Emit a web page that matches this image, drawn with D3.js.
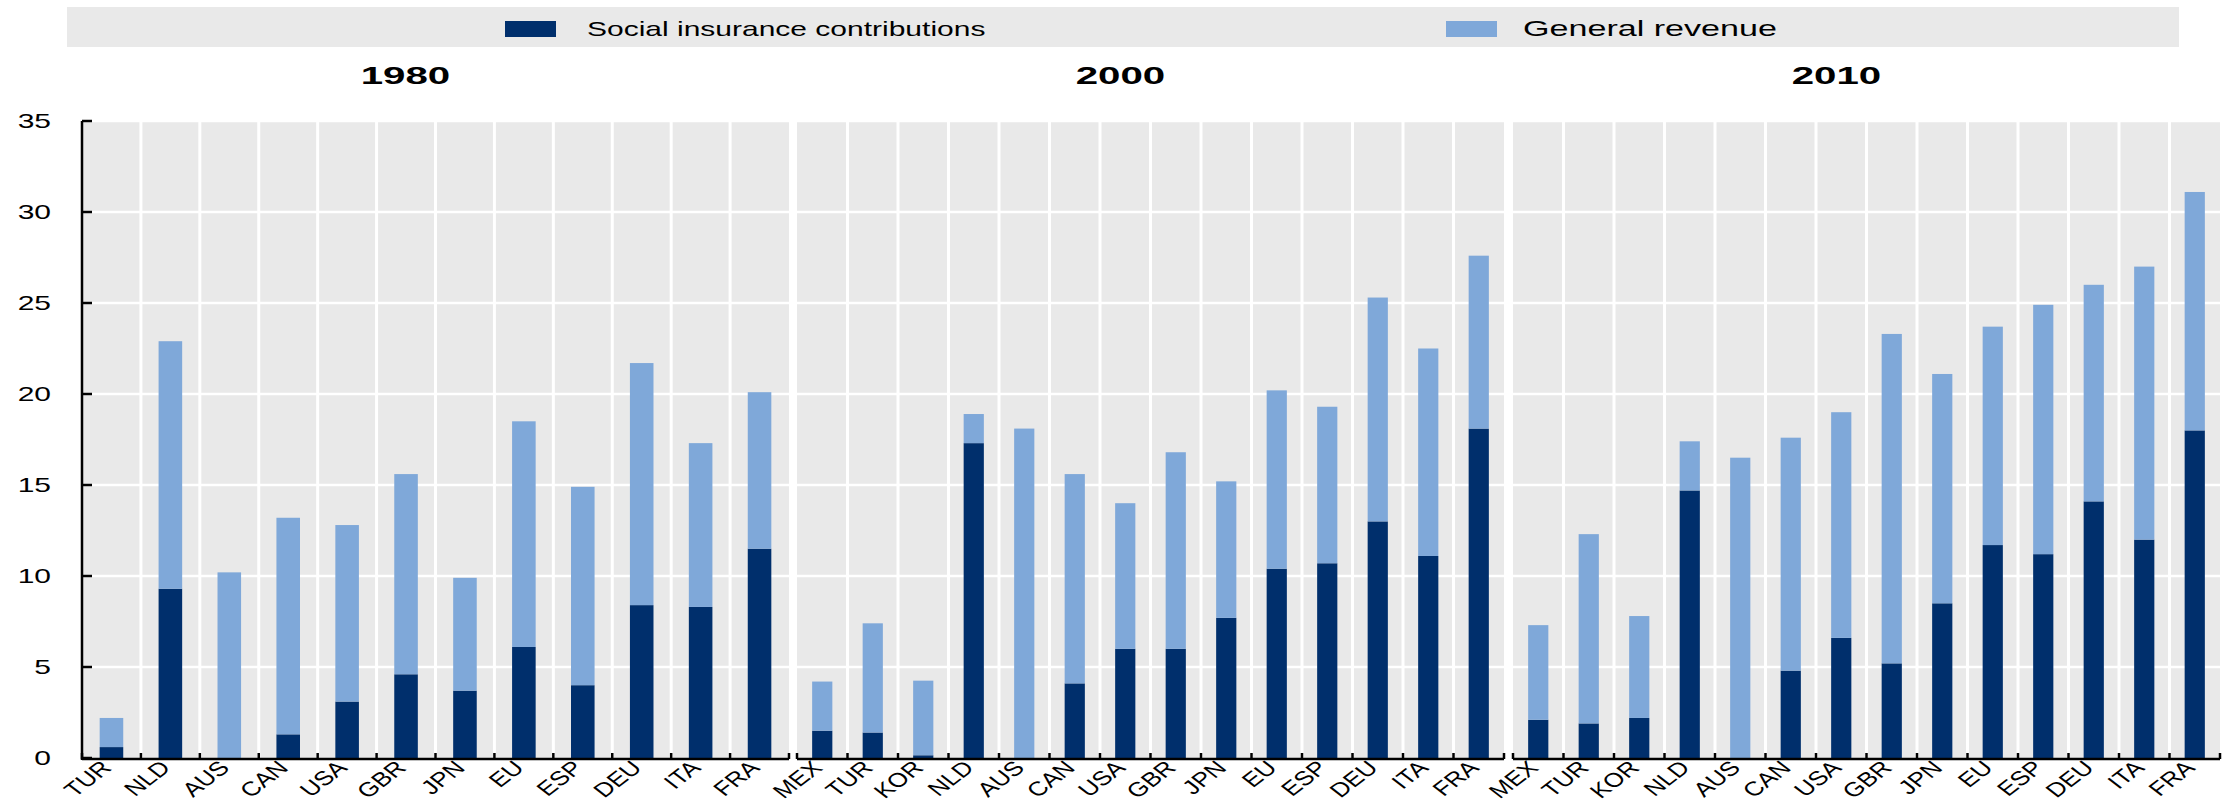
<!DOCTYPE html>
<html><head><meta charset="utf-8">
<script src="https://cdn.jsdelivr.net/npm/d3@7"></script>
<style>body{margin:0;background:#fff;} svg{display:block;} text{font-family:Arial,"Liberation Sans",sans-serif;fill:#000;}</style>
</head><body><svg id="c" width="2229" height="802"></svg>
<script>
// ---- data ----
const years = ["1980", "2000", "2010"];
const cats1980 = ["TUR","NLD","AUS","CAN","USA","GBR","JPN","EU","ESP","DEU","ITA","FRA"];
const social1980 = [0.6, 9.3, 0, 1.3, 3.1, 4.6, 3.7, 6.1, 4.0, 8.4, 8.3, 11.5];
const general1980 = [1.6, 13.6, 10.2, 11.9, 9.7, 11.0, 6.2, 12.4, 10.9, 13.3, 9.0, 8.6];
const cats2000 = ["MEX","TUR","KOR","NLD","AUS","CAN","USA","GBR","JPN","EU","ESP","DEU","ITA","FRA"];
const social2000 = [1.5, 1.4, 0.15, 17.3, 0, 4.1, 6.0, 6.0, 7.7, 10.4, 10.7, 13.0, 11.1, 18.1];
const general2000 = [2.7, 6.0, 4.1, 1.6, 18.1, 11.5, 8.0, 10.8, 7.5, 9.8, 8.6, 12.3, 11.4, 9.5];
const cats2010 = ["MEX","TUR","KOR","NLD","AUS","CAN","USA","GBR","JPN","EU","ESP","DEU","ITA","FRA"];
const social2010 = [2.1, 1.9, 2.2, 14.7, 0, 4.8, 6.6, 5.2, 8.5, 11.7, 11.2, 14.1, 12.0, 18.0];
const general2010 = [5.2, 10.4, 5.6, 2.7, 16.5, 12.8, 12.4, 18.1, 12.6, 12.0, 13.7, 11.9, 15.0, 13.1];
const yTicks = [0, 5, 10, 15, 20, 25, 30, 35];
const seriesNames = ["Social insurance contributions", "General revenue"];
const seriesKeys = ["social", "general"];
const colors = ["#002F6C", "#7FA8D9"];

// ---- layout ----
const SX = 1.5;               // horizontal stretch of the original picture's text
const panelX = [82, 797, 1513];
const panelW = 707;
const svg = d3.select("#c");
const y = d3.scaleLinear().domain([0, 35]).range([758, 121]);

const panels = [
  {year: years[0], cats: cats1980, social: social1980, general: general1980},
  {year: years[1], cats: cats2000, social: social2000, general: general2000},
  {year: years[2], cats: cats2010, social: social2010, general: general2010}
];

// legend
const lg = svg.append("g");
lg.append("rect").attr("x", 67).attr("y", 7).attr("width", 2112).attr("height", 40).attr("fill", "#E9E9E9");
const legendPos = [{sw: 505, tx: 587, fs: 20, sx: 1.5}, {sw: 1446, tx: 1523, fs: 22, sx: 1.55}];
seriesNames.forEach((n, i) => {
  lg.append("rect").attr("x", legendPos[i].sw).attr("y", 21).attr("width", 51).attr("height", 16).attr("fill", colors[i]);
  lg.append("text").attr("transform", `translate(${legendPos[i].tx},36) scale(${legendPos[i].sx},1)`)
    .attr("font-size", legendPos[i].fs).text(n);
});

const stack = d3.stack().keys(seriesKeys);

panels.forEach((p, pi) => {
  const x0 = panelX[pi];
  const x = d3.scaleBand().domain(p.cats).range([x0, x0 + panelW]).padding(0);
  const bw = x.bandwidth() * 0.4;
  const g = svg.append("g");
  g.append("rect").attr("x", x0).attr("y", y(35)).attr("width", panelW).attr("height", y(0) - y(35)).attr("fill", "#E9E9E9");
  // horizontal grid
  g.selectAll(".hg").data(yTicks.filter(v => v > 0)).join("line")
    .attr("x1", x0).attr("x2", x0 + panelW).attr("y1", d => y(d)).attr("y2", d => y(d))
    .attr("stroke", "#fff").attr("stroke-width", 2.5);
  // vertical grid
  g.selectAll(".vg").data(p.cats.slice(1)).join("line")
    .attr("x1", d => x(d)).attr("x2", d => x(d)).attr("y1", y(35)).attr("y2", y(0))
    .attr("stroke", "#fff").attr("stroke-width", 3);
  // bars
  const rows = p.cats.map((c, i) => ({cat: c, social: p.social[i], general: p.general[i]}));
  const st = stack(rows);
  st.forEach((s, si) => {
    g.selectAll(".b" + si).data(s).join("rect")
      .attr("x", d => x(d.data.cat) + (x.bandwidth() - bw) / 2)
      .attr("width", bw)
      .attr("y", d => y(d[1]))
      .attr("height", d => Math.max(0, y(d[0]) - y(d[1])))
      .attr("fill", colors[si]);
  });
  // x axis line + ticks at band boundaries
  g.append("line").attr("x1", x0).attr("x2", x0 + panelW).attr("y1", y(0) + 1).attr("y2", y(0) + 1)
    .attr("stroke", "#000").attr("stroke-width", 2.5);
  const bounds = p.cats.map(c => x(c)).concat([x0 + panelW]);
  g.selectAll(".xt").data(bounds).join("line")
    .attr("x1", d => d).attr("x2", d => d).attr("y1", y(0) - 5).attr("y2", y(0) + 1)
    .attr("stroke", "#000").attr("stroke-width", 2.5);
  // x labels (rotated 45 degrees, then stretched horizontally like the original)
  g.selectAll(".xl").data(p.cats).join("g")
    .attr("transform", d => `translate(${x(d) + x.bandwidth() / 2 - 5},${y(0) + 6}) scale(1.3,1)`)
    .append("text")
    .attr("transform", "rotate(-45)")
    .attr("text-anchor", "end").attr("dy", "0.35em").attr("font-size", 20).text(d => d);
  // title
  g.append("text").attr("transform", `translate(${x0 + panelW / 2 - 30},84) scale(1.75,1)`)
    .attr("text-anchor", "middle").attr("font-size", 23).attr("font-weight", "bold").text(p.year);
});

// y axis (left of first panel)
const ya = svg.append("g");
ya.append("line").attr("x1", 82).attr("x2", 82).attr("y1", y(35)).attr("y2", y(0) + 2)
  .attr("stroke", "#000").attr("stroke-width", 2.5);
ya.selectAll(".yt").data(yTicks).join("line")
  .attr("x1", 82).attr("x2", 92).attr("y1", d => y(d)).attr("y2", d => y(d))
  .attr("stroke", "#000").attr("stroke-width", 2.5);
ya.selectAll(".yl").data(yTicks).join("text")
  .attr("transform", d => `translate(51,${y(d)}) scale(${SX},1)`)
  .attr("text-anchor", "end").attr("dy", "0.36em").attr("font-size", 20).text(d => d);
</script>
</body></html>
